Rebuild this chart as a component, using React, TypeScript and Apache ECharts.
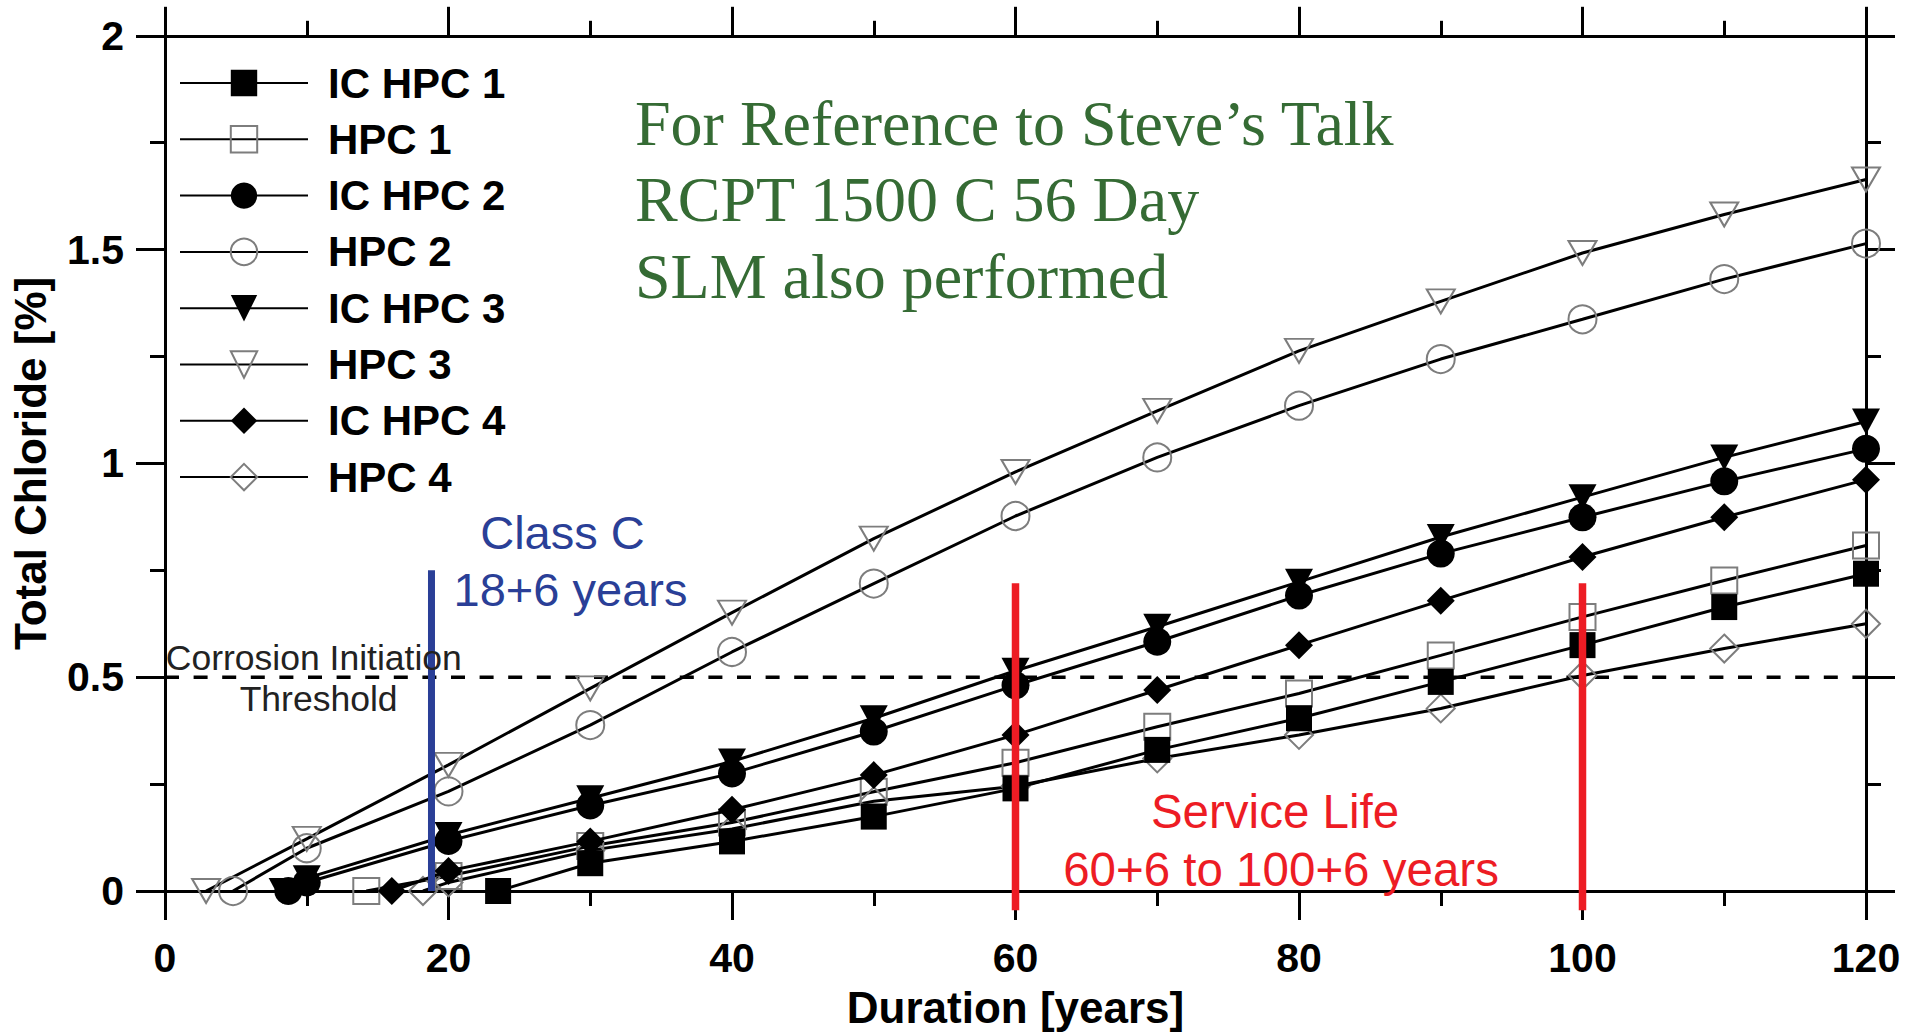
import React, { useEffect, useRef } from 'react';
import * as echarts from 'echarts';

// ---- data (Duration [years], Total Chloride [%]) ----
const IC_HPC1_YEARS = [23.5, 30, 40, 50, 60, 70, 80, 90, 100, 110, 120];
const IC_HPC1_CL = [0, 0.065, 0.116, 0.174, 0.24, 0.33, 0.404, 0.489, 0.575, 0.664, 0.742];

const HPC1_YEARS = [14.2, 20, 30, 40, 50, 60, 70, 80, 90, 100, 110, 120];
const HPC1_CL = [0, 0.035, 0.105, 0.16, 0.232, 0.3, 0.384, 0.462, 0.551, 0.641, 0.726, 0.808];

const IC_HPC2_YEARS = [8.7, 10, 20, 30, 40, 50, 60, 70, 80, 90, 100, 110, 120];
const IC_HPC2_CL = [0, 0.02, 0.117, 0.2, 0.275, 0.373, 0.481, 0.583, 0.691, 0.789, 0.874, 0.958, 1.034];

const HPC2_YEARS = [4.8, 10, 20, 30, 40, 50, 60, 70, 80, 90, 100, 110, 120];
const HPC2_CL = [0, 0.1, 0.233, 0.388, 0.559, 0.719, 0.877, 1.014, 1.135, 1.244, 1.337, 1.431, 1.514];

const IC_HPC3_YEARS = [8.3, 10, 20, 30, 40, 50, 60, 70, 80, 90, 100, 110, 120];
const IC_HPC3_CL = [0, 0.03, 0.131, 0.217, 0.303, 0.404, 0.515, 0.618, 0.723, 0.828, 0.921, 1.014, 1.098];

const HPC3_YEARS = [2.9, 10, 20, 30, 40, 50, 60, 70, 80, 90, 100, 110, 120];
const HPC3_CL = [0, 0.122, 0.295, 0.474, 0.651, 0.824, 0.98, 1.123, 1.263, 1.379, 1.492, 1.582, 1.664];

const IC_HPC4_YEARS = [16, 20, 30, 40, 50, 60, 70, 80, 90, 100, 110, 120];
const IC_HPC4_CL = [0, 0.047, 0.116, 0.19, 0.271, 0.365, 0.47, 0.575, 0.679, 0.781, 0.874, 0.962];

const HPC4_YEARS = [18.2, 20, 30, 40, 50, 60, 70, 80, 90, 100, 110, 120];
const HPC4_CL = [0, 0.02, 0.095, 0.145, 0.21, 0.245, 0.31, 0.365, 0.427, 0.504, 0.567, 0.625];

const THRESHOLD_YEARS = [0, 120];
const THRESHOLD_CL = [0.5, 0.5];

const CLASS_C_YEARS = [18.8, 18.8];
const CLASS_C_CL = [0, 0.75];

const SERVICE_60_YEARS = [60, 60];
const SERVICE_100_YEARS = [100, 100];
const SERVICE_CL = [-0.045, 0.72];

const LEGEND_NAMES = ['IC HPC 1', 'HPC 1', 'IC HPC 2', 'HPC 2', 'IC HPC 3', 'HPC 3', 'IC HPC 4', 'HPC 4'];

const SANS = '"Liberation Sans", Arial, Helvetica, sans-serif';
const SERIF = '"Liberation Serif", "Times New Roman", serif';

const pairs = (xs: number[], ys: number[]) => xs.map((x, i) => [x, ys[i]]);

function markerSeries(
  name: string,
  xs: number[],
  ys: number[],
  symbol: string,
  size: number | number[],
  filled: boolean,
  rotate = 0
) {
  return {
    name,
    type: 'line',
    data: pairs(xs, ys),
    symbol,
    symbolSize: size,
    symbolRotate: rotate,
    showSymbol: true,
    clip: false,
    lineStyle: { color: '#000', width: 3 },
    itemStyle: filled
      ? { color: '#000', borderColor: '#000', borderWidth: 0 }
      : { color: 'rgba(255,255,255,0)', borderColor: '#7d7d7d', borderWidth: 2 },
    z: filled ? 4 : 3,
    emphasis: { disabled: true },
    silent: true,
  };
}

function refLine(xs: number[], ys: number[], color: string, width: number, type: any, z: number) {
  return {
    type: 'line',
    data: pairs(xs, ys),
    symbol: 'none',
    clip: false,
    lineStyle: { color, width, type },
    z,
    silent: true,
    emphasis: { disabled: true },
  };
}

const tickStyle = { color: '#000', width: 3 };

function xAxisDef(position: 'bottom' | 'top', labels: boolean) {
  return {
    type: 'value',
    position,
    min: 0,
    max: 120,
    interval: 20,
    name: labels ? 'Duration [years]' : '',
    nameLocation: 'middle',
    nameGap: 94,
    nameTextStyle: { fontFamily: SANS, fontSize: 44, fontWeight: 'bold', color: '#000' },
    axisLine: { show: true, onZero: false, lineStyle: { color: '#000', width: 3 } },
    axisTick: { show: true, length: 29, lineStyle: tickStyle },
    minorTick: { show: true, splitNumber: 2, length: 15, lineStyle: tickStyle },
    splitLine: { show: false },
    axisLabel: {
      show: labels,
      margin: 46,
      fontFamily: SANS,
      fontSize: 41,
      fontWeight: 'bold',
      color: '#000',
    },
  };
}

function yAxisDef(position: 'left' | 'right', labels: boolean) {
  return {
    type: 'value',
    position,
    min: 0,
    max: 2,
    interval: 0.5,
    name: labels ? 'Total Chloride [%]' : '',
    nameLocation: 'middle',
    nameGap: 113,
    nameRotate: 90,
    nameTextStyle: { fontFamily: SANS, fontSize: 44, fontWeight: 'bold', color: '#000' },
    axisLine: { show: true, onZero: false, lineStyle: { color: '#000', width: 3 } },
    axisTick: { show: true, length: 29, lineStyle: tickStyle },
    minorTick: { show: true, splitNumber: 2, length: 15, lineStyle: tickStyle },
    splitLine: { show: false },
    axisLabel: {
      show: labels,
      margin: 41,
      fontFamily: SANS,
      fontSize: 41,
      fontWeight: 'bold',
      color: '#000',
    },
  };
}

function txt(
  text: string,
  x: number,
  y: number,
  fontSize: number,
  fill: string,
  family: string,
  align = 'left'
) {
  return {
    type: 'text',
    x,
    y,
    z: 20,
    silent: true,
    style: {
      text,
      fontSize,
      fontFamily: family,
      fontWeight: 'normal',
      fill,
      textAlign: align,
      textVerticalAlign: 'middle',
    },
  };
}

export default function App() {
  const ref = useRef<HTMLDivElement>(null);

  useEffect(() => {
    if (!ref.current) return;
    const chart = echarts.init(ref.current, undefined, { renderer: 'svg' });
    const green = '#356b34';
    const blue = '#2a3f97';
    const red = '#ed1c24';

    chart.setOption({
      animation: false,
      backgroundColor: '#fff',
      grid: { left: 158.5, top: 35.8, width: 1707.5, height: 857.2, containLabel: false },
      xAxis: [xAxisDef('bottom', true), xAxisDef('top', false)],
      yAxis: [yAxisDef('left', true), yAxisDef('right', false)],
      legend: {
        data: LEGEND_NAMES,
        orient: 'vertical',
        left: 179,
        top: 62,
        padding: 0,
        itemWidth: 128,
        itemHeight: 33,
        itemGap: 14.3,
        selectedMode: false,
        textStyle: {
          fontFamily: SANS,
          fontSize: 42,
          fontWeight: 'bold',
          color: '#000',
          lineHeight: 42,
          padding: [0, 0, 0, 15],
        },
      },
      series: [
        refLine(THRESHOLD_YEARS, THRESHOLD_CL, '#000', 3.5, [14, 14.6], 1),
        markerSeries('IC HPC 1', IC_HPC1_YEARS, IC_HPC1_CL, 'rect', 26, true),
        markerSeries('HPC 1', HPC1_YEARS, HPC1_CL, 'rect', 26, false),
        markerSeries('IC HPC 2', IC_HPC2_YEARS, IC_HPC2_CL, 'circle', 28, true),
        markerSeries('HPC 2', HPC2_YEARS, HPC2_CL, 'circle', 28, false),
        markerSeries('IC HPC 3', IC_HPC3_YEARS, IC_HPC3_CL, 'triangle', [28, 26], true, 180),
        markerSeries('HPC 3', HPC3_YEARS, HPC3_CL, 'triangle', [28, 24], false, 180),
        markerSeries('IC HPC 4', IC_HPC4_YEARS, IC_HPC4_CL, 'diamond', 28, true),
        markerSeries('HPC 4', HPC4_YEARS, HPC4_CL, 'diamond', 28, false),
        refLine(CLASS_C_YEARS, CLASS_C_CL, blue, 7, 'solid', 10),
        refLine(SERVICE_60_YEARS, SERVICE_CL, red, 7.5, 'solid', 10),
        refLine(SERVICE_100_YEARS, SERVICE_CL, red, 7.5, 'solid', 10),
      ],
      graphic: [
        txt('For Reference to Steve\u2019s Talk', 635, 123, 64, green, SERIF),
        txt('RCPT 1500 C 56 Day', 635, 199.6, 64, green, SERIF),
        txt('SLM also performed', 635, 276, 64, green, SERIF),
        txt('Class C', 562.5, 532, 47, blue, SANS, 'center'),
        txt('18+6 years', 570.5, 589.7, 47, blue, SANS, 'center'),
        txt('Service Life', 1275, 811, 47.5, red, SANS, 'center'),
        txt('60+6 to 100+6 years', 1281, 869, 47.5, red, SANS, 'center'),
        txt('Corrosion Initiation', 313.8, 658, 35.5, '#222', SANS, 'center'),
        txt('Threshold', 318.6, 699, 35.5, '#222', SANS, 'center'),
      ],
    });

    return () => chart.dispose();
  }, []);

  return (
    <div
      ref={ref}
      style={{ position: 'fixed', left: 0, top: 0, width: 1907, height: 1034, background: '#fff' }}
    />
  );
}
